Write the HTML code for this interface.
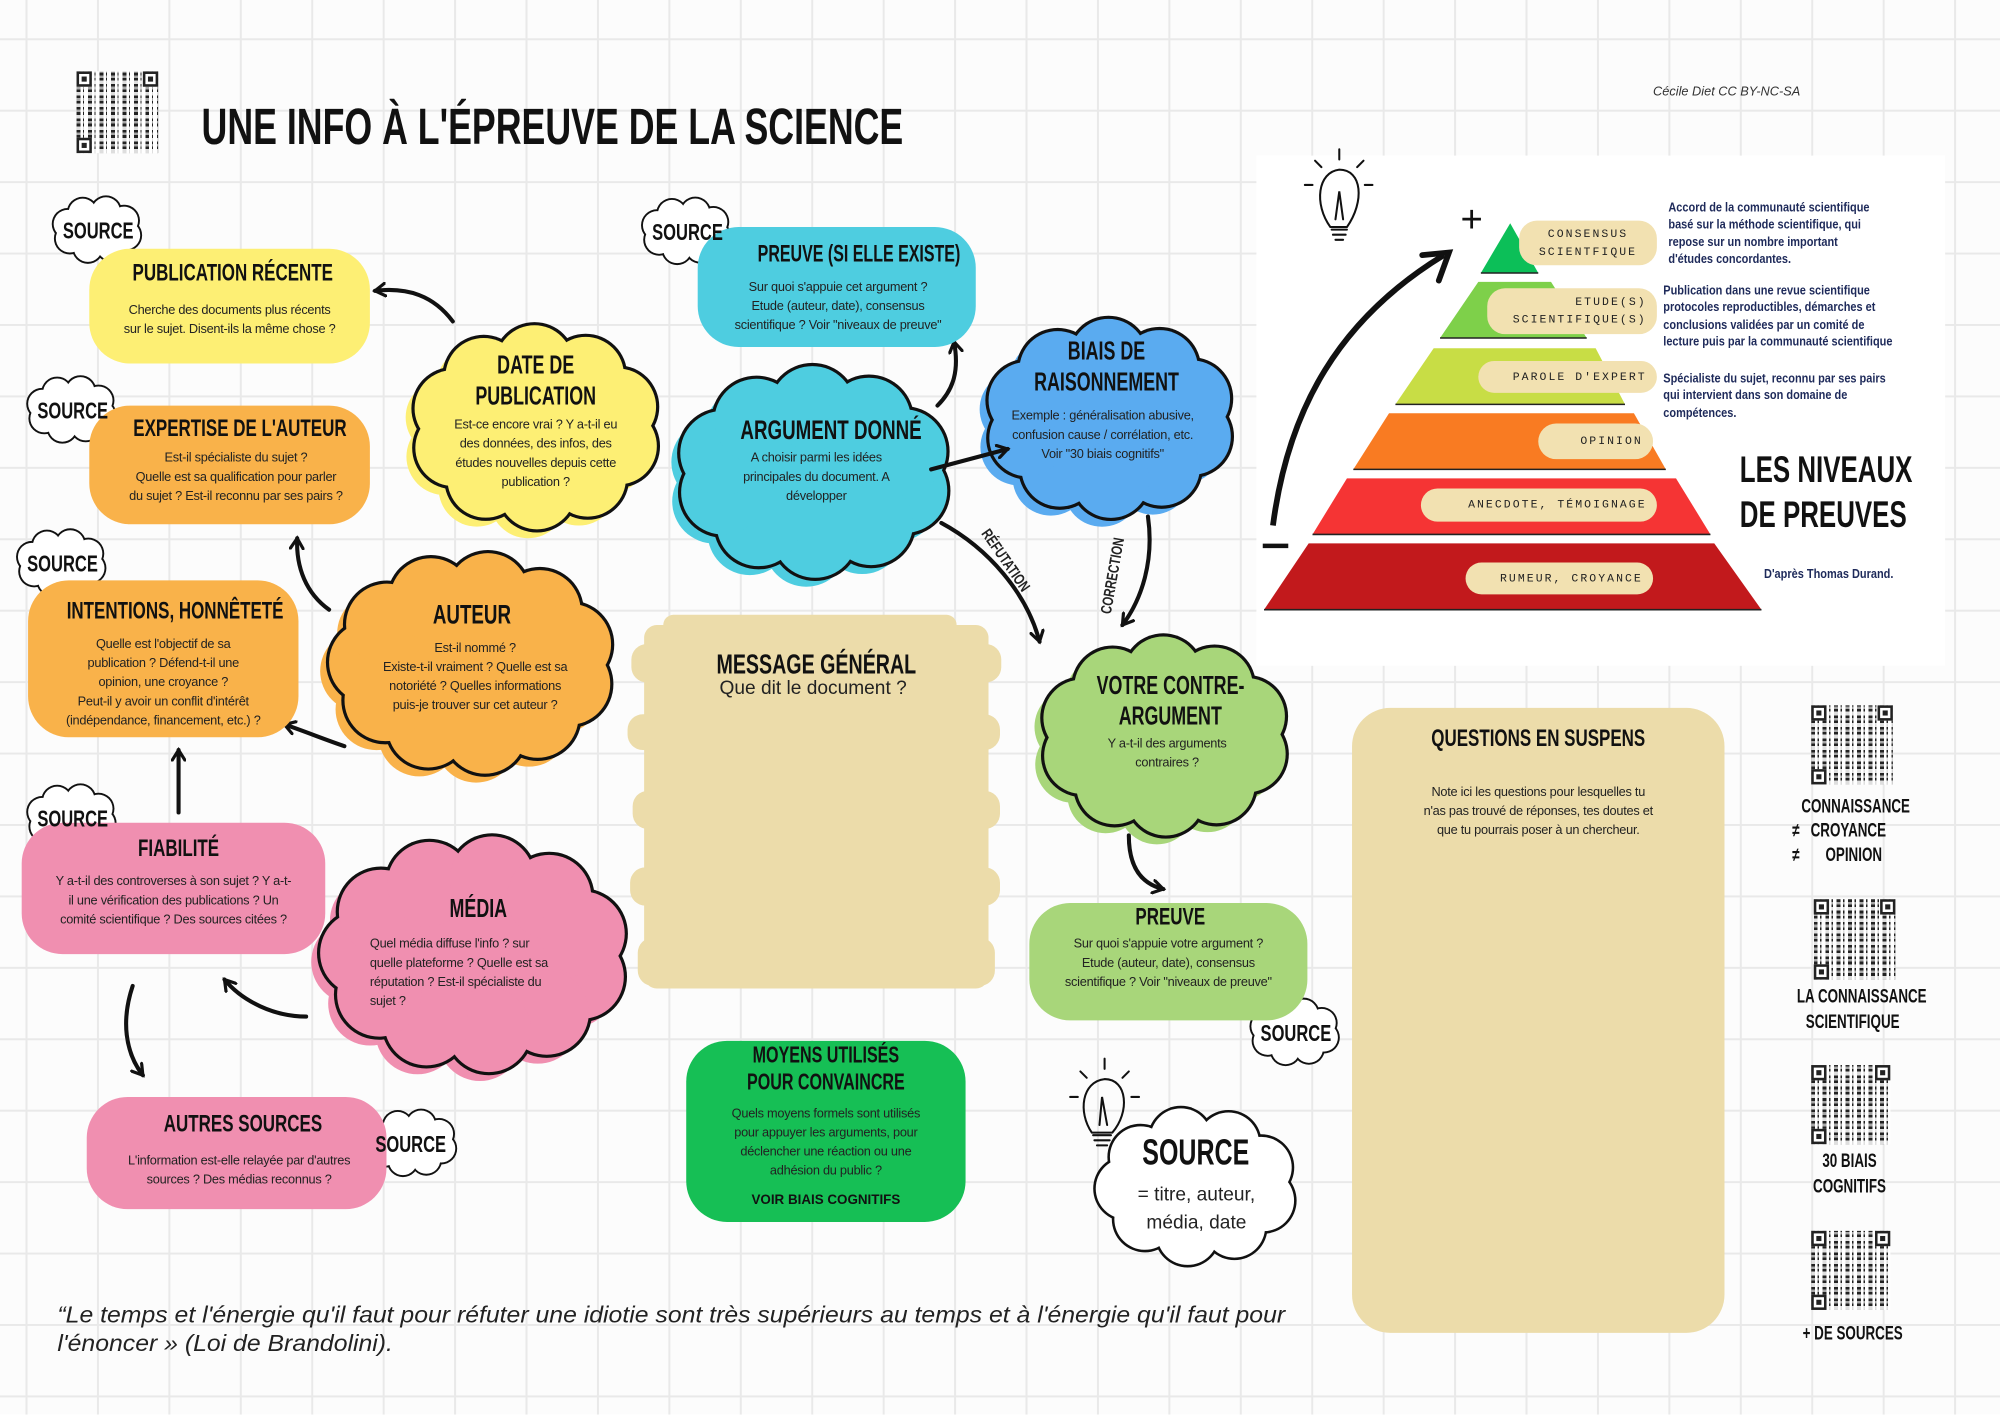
<!DOCTYPE html>
<html><head><meta charset="utf-8">
<style>
html,body{margin:0;padding:0;width:2000px;height:1414px;overflow:hidden;background:#fff}
#c{position:absolute;left:0;top:0;width:1568px;height:1109px;transform:scale(1.27551);transform-origin:0 0;
background-color:#fcfcfc;
background-image:linear-gradient(#e9e9e9 1.5px,transparent 1.5px),linear-gradient(90deg,#e9e9e9 1.5px,transparent 1.5px);
background-size:56px 56px;background-position:20px 30px;font-family:"Liberation Sans",sans-serif;color:#222}
.a{position:absolute}
.t{font-family:"Liberation Sans",sans-serif;font-weight:bold;text-transform:uppercase;color:#111;text-align:center;white-space:nowrap;transform:scaleX(0.7);transform-origin:50% 0}
.b{font-size:10px;line-height:15px;text-align:center;color:#222;letter-spacing:-0.2px}
.box{position:absolute;border-radius:32px}
.pill{position:absolute;background:#f2e1b1;border-radius:14px;font-family:"Liberation Mono",monospace;font-size:9px;letter-spacing:1.6px;color:#222;text-align:right;padding-right:8px;box-sizing:border-box;display:flex;flex-direction:column;justify-content:center;line-height:14px;white-space:nowrap}
.nv{font-family:"Liberation Sans",sans-serif;font-weight:bold;font-size:10px;line-height:13.3px;color:#1e2a5a;white-space:nowrap;transform:scaleX(0.86);transform-origin:0 0}
.src{font-family:"Liberation Sans",sans-serif;font-weight:bold;font-size:18px;color:#111;text-align:center;transform:scaleX(0.72);transform-origin:50% 0}
.qr{position:absolute;background:
repeating-linear-gradient(90deg,#222 0 3px,#fff 3px 5px,#222 5px 6px,#fff 6px 9px),#fff;}
.qr::after{content:"";position:absolute;inset:0;background:repeating-linear-gradient(0deg,rgba(255,255,255,.85) 0 3px,transparent 3px 5px,rgba(255,255,255,.6) 5px 7px,transparent 7px 9px)}
.fin{position:absolute;width:12px;height:12px;border:2px solid #222;background:#fff;z-index:2;box-sizing:border-box}
.fin::after{content:"";position:absolute;left:2px;top:2px;width:4px;height:4px;background:#222}
</style></head><body>
<div id="c">
<div class="a" style="left:985px;top:122px;width:540px;height:400px;background:#fff"></div>

<svg class="a" style="left:0;top:0" width="1568" height="1109" id="svg">
<defs>
<marker id="ah" markerWidth="12" markerHeight="12" refX="9" refY="6" orient="auto" markerUnits="userSpaceOnUse">
<path d="M1,1 L9,6 L1,11" fill="none" stroke="#111" stroke-width="2.5" stroke-linecap="round"/></marker>
</defs>
<g id="clouds"></g>
<g fill="#ecdcaa">
<rect x="505" y="490" width="270" height="285" rx="10"/>
<rect x="495" y="505" width="290" height="30" rx="12"/>
<rect x="492" y="560" width="292" height="28" rx="12"/>
<rect x="496" y="620" width="288" height="30" rx="12"/>
<rect x="494" y="680" width="290" height="30" rx="12"/>
<rect x="500" y="735" width="280" height="38" rx="12"/>
<rect x="520" y="482" width="230" height="20" rx="8"/>
</g>
<polygon points="1184,175 1206,214 1161,214" fill="#0cbf58"/>
<polygon points="1159,221 1216,221 1244,265 1129,265" fill="#7ed04a"/>
<polygon points="1124,273 1251,273 1274,317 1094,317" fill="#c8dd45"/>
<polygon points="1089,324 1281,324 1306,368 1061,368" fill="#f97b22"/>
<polygon points="1056,375 1314,375 1341,419 1029,419" fill="#f53434"/>
<polygon points="1026,426 1344,426 1381,478 991,478" fill="#c2191c"/>
<g stroke="#222" stroke-width="1.2"><line x1="1161" y1="214" x2="1206" y2="214"/><line x1="1129" y1="265" x2="1244" y2="265"/><line x1="1094" y1="317" x2="1274" y2="317"/><line x1="1061" y1="368" x2="1306" y2="368"/><line x1="1029" y1="419" x2="1341" y2="419"/><line x1="991" y1="478" x2="1381" y2="478"/></g>
<path d="M998,412 C1010,320 1050,250 1132,200" fill="none" stroke="#111" stroke-width="4.5"/>
<path d="M1115,200 L1136,198 L1128,220" fill="none" stroke="#111" stroke-width="4.5" stroke-linecap="round"/>
<text x="1145" y="182" font-size="30" font-family="Liberation Sans" fill="#111">+</text>
<line x1="990" y1="428" x2="1010" y2="428" stroke="#111" stroke-width="3.5"/>
<g fill="none" stroke="#111" stroke-width="1.6" stroke-linecap="round">
<path d="M1043,178 C1030,160 1033,135 1050,133 C1068,133 1070,158 1056,178 Z"/>
<path d="M1044,180 h12 M1045,184 h10 M1047,188 h6 M1047,172 L1050,150 L1053,172"/>
<path d="M1050,125 v-8 M1036,131 l-5,-5 M1064,131 l5,-5 M1029,145 h-6 M1070,145 h6"/>
<path d="M856,888 C845,872 848,848 866,846 C884,846 886,872 872,888 Z"/>
<path d="M857,890 h14 M858,894 h12 M860,898 h8 M862,882 L864,860 L868,882"/>
<path d="M866,838 v-8 M852,845 l-5,-5 M880,845 l5,-5 M845,860 h-6 M887,860 h6"/>
</g>
<g fill="none" stroke="#111" stroke-width="3.2" stroke-linecap="round" marker-end="url(#ah)">
<path d="M355,252 C340,232 320,225 294,228"/>
<path d="M258,478 C240,465 232,445 233,422"/>
<path d="M270,585 C255,580 238,573 223,568"/>
<path d="M140,637 L140,588"/>
<path d="M240,797 C215,797 190,785 176,768"/>
<path d="M104,773 C95,800 98,825 112,843"/>
<path d="M735,318 C748,305 752,290 748,268"/>
<path d="M730,368 L790,352"/>
<path d="M738,410 C775,430 805,465 815,503"/>
<path d="M900,405 C905,440 895,470 880,490"/>
<path d="M885,655 C885,680 895,693 912,697"/>
</g>
</svg>

<div class="qr" style="left:60px;top:56px;width:64px;height:64px"></div>
<div class="fin" style="left:60px;top:56px"></div><div class="fin" style="left:112px;top:56px"></div><div class="fin" style="left:60px;top:108px"></div>
<div class="qr" style="left:1420px;top:553px;width:64px;height:62px"></div>
<div class="fin" style="left:1420px;top:553px"></div><div class="fin" style="left:1472px;top:553px"></div><div class="fin" style="left:1420px;top:603px"></div>
<div class="qr" style="left:1422px;top:705px;width:64px;height:63px"></div>
<div class="fin" style="left:1422px;top:705px"></div><div class="fin" style="left:1474px;top:705px"></div><div class="fin" style="left:1422px;top:756px"></div>
<div class="qr" style="left:1420px;top:835px;width:62px;height:62px"></div>
<div class="fin" style="left:1420px;top:835px"></div><div class="fin" style="left:1470px;top:835px"></div><div class="fin" style="left:1420px;top:885px"></div>
<div class="qr" style="left:1420px;top:965px;width:62px;height:62px"></div>
<div class="fin" style="left:1420px;top:965px"></div><div class="fin" style="left:1470px;top:965px"></div><div class="fin" style="left:1420px;top:1015px"></div>

<div class="a t" style="left:158px;top:78px;font-size:40px;text-align:left;transform:scaleX(0.7);transform-origin:0 0">UNE INFO À L'ÉPREUVE DE LA SCIENCE</div>
<div class="a" style="left:1296px;top:67px;font-size:10px;font-style:italic;color:#333">Cécile Diet CC BY-NC-SA</div>

<div class="box" style="left:70px;top:195px;width:220px;height:90px;background:#fdef74"></div>
<div class="a t" style="left:70px;top:204px;width:225px;font-size:19px">Publication récente</div>
<div class="a b" style="left:75px;top:236px;width:210px">Cherche des documents plus récents<br>sur le sujet. Disent-ils la même chose ?</div>

<div class="box" style="left:70px;top:318px;width:220px;height:93px;background:#f9b24a"></div>
<div class="a t" style="left:70px;top:326px;width:230px;font-size:19px">Expertise de l'auteur</div>
<div class="a b" style="left:80px;top:352px;width:210px">Est-il spécialiste du sujet ?<br>Quelle est sa qualification pour parler<br>du sujet ? Est-il reconnu par ses pairs ?</div>

<div class="box" style="left:22px;top:455px;width:212px;height:123px;background:#f9b24a"></div>
<div class="a t" style="left:22px;top:469px;width:202px;font-size:19px">Intentions, honnêteté</div>
<div class="a b" style="left:28px;top:498px;width:200px">Quelle est l'objectif de sa<br>publication ? Défend-t-il une<br>opinion, une croyance ?<br>Peut-il y avoir un conflit d'intérêt<br>(indépendance, financement, etc.) ?</div>

<div class="box" style="left:17px;top:645px;width:238px;height:103px;background:#f08fb0"></div>
<div class="a t" style="left:40px;top:655px;width:200px;font-size:19px">Fiabilité</div>
<div class="a b" style="left:22px;top:684px;width:228px">Y a-t-il des controverses à son sujet ? Y a-t-<br>il une vérification des publications ? Un<br>comité scientifique ? Des sources citées ?</div>

<div class="box" style="left:68px;top:860px;width:235px;height:88px;background:#f08fb0"></div>
<div class="a t" style="left:78px;top:871px;width:225px;font-size:19px">Autres sources</div>
<div class="a b" style="left:80px;top:903px;width:215px">L'information est-elle relayée par d'autres<br>sources ? Des médias reconnus ?</div>

<div class="box" style="left:547px;top:178px;width:218px;height:94px;background:#4ecde0"></div>
<div class="a t" style="left:560px;top:189px;width:200px;font-size:19px;transform:scaleX(0.66)">Preuve (si elle existe)</div>
<div class="a b" style="left:552px;top:218px;width:210px">Sur quoi s'appuie cet argument ?<br>Etude (auteur, date), consensus<br>scientifique ? Voir "niveaux de preuve"</div>

<div class="box" style="left:807px;top:708px;width:218px;height:92px;background:#a8d67a"></div>
<div class="a t" style="left:815px;top:709px;width:205px;font-size:19px">Preuve</div>
<div class="a b" style="left:810px;top:733px;width:212px">Sur quoi s'appuie votre argument ?<br>Etude (auteur, date), consensus<br>scientifique ? Voir "niveaux de preuve"</div>

<div class="box" style="left:538px;top:816px;width:219px;height:142px;background:#16bf55"></div>
<div class="a t" style="left:545px;top:817px;width:205px;font-size:18px;line-height:21px">Moyens utilisés<br>pour convaincre</div>
<div class="a b" style="left:550px;top:866px;width:195px">Quels moyens formels sont utilisés<br>pour appuyer les arguments, pour<br>déclencher une réaction ou une<br>adhésion du public ?</div>
<div class="a" style="left:545px;top:935px;width:205px;text-align:center;font-size:10.5px;font-weight:bold;color:#111">VOIR BIAIS COGNITIFS</div>

<div class="box" style="left:1060px;top:555px;width:292px;height:490px;background:#ecdcaa;border-radius:30px"></div>
<div class="a t" style="left:1060px;top:569px;width:292px;font-size:19px">Questions en suspens</div>
<div class="a b" style="left:1090px;top:614px;width:232px">Note ici les questions pour lesquelles tu<br>n'as pas trouvé de réponses, tes doutes et<br>que tu pourrais poser à un chercheur.</div>

<div class="a t" style="left:520px;top:508px;width:240px;font-size:22px">Message général</div>
<div class="a" style="left:520px;top:531px;width:235px;text-align:center;font-size:15px;color:#222">Que dit le document ?</div>

<div class="a t" style="left:330px;top:275px;width:180px;font-size:20px;line-height:24px">Date de<br>publication</div>
<div class="a b" style="left:330px;top:326px;width:180px">Est-ce encore vrai ? Y a-t-il eu<br>des données, des infos, des<br>études nouvelles depuis cette<br>publication ?</div>

<div class="a t" style="left:290px;top:471px;width:160px;font-size:21px">Auteur</div>
<div class="a b" style="left:280px;top:501px;width:185px">Est-il nommé ?<br>Existe-t-il vraiment ? Quelle est sa<br>notoriété ? Quelles informations<br>puis-je trouver sur cet auteur ?</div>

<div class="a t" style="left:300px;top:702px;width:150px;font-size:20px">Média</div>
<div class="a b" style="left:290px;top:733px;width:175px;text-align:left">Quel média  diffuse l'info ? sur<br>quelle plateforme ? Quelle est sa<br>réputation ? Est-il spécialiste du<br>sujet ?</div>

<div class="a t" style="left:555px;top:326px;width:170px;font-size:21px">Argument donné</div>
<div class="a b" style="left:560px;top:352px;width:160px">A choisir parmi les idées<br>principales du document. A<br>développer</div>

<div class="a t" style="left:785px;top:264px;width:165px;font-size:20px;line-height:24px">Biais de<br>raisonnement</div>
<div class="a b" style="left:767px;top:319px;width:195px">Exemple :  généralisation abusive,<br>confusion cause / corrélation, etc.<br>Voir "30 biais cognitifs"</div>

<div class="a t" style="left:835px;top:526px;width:165px;font-size:20px;line-height:24px">Votre contre-<br>argument</div>
<div class="a b" style="left:845px;top:576px;width:140px">Y a-t-il des arguments<br>contraires ?</div>

<div class="a t" style="left:870px;top:888px;width:135px;font-size:28px">Source</div>
<div class="a" style="left:868px;top:926px;width:140px;text-align:center;font-size:15px;line-height:22px;color:#222">= titre, auteur,<br>média, date</div>

<div class="a src" style="left:38px;top:171px;width:78px">SOURCE</div>
<div class="a src" style="left:18px;top:312px;width:78px">SOURCE</div>
<div class="a src" style="left:10px;top:432px;width:78px">SOURCE</div>
<div class="a src" style="left:18px;top:632px;width:78px">SOURCE</div>
<div class="a src" style="left:283px;top:887px;width:78px">SOURCE</div>
<div class="a src" style="left:500px;top:172px;width:78px">SOURCE</div>
<div class="a src" style="left:977px;top:800px;width:78px">SOURCE</div>

<div class="a" style="left:778px;top:412px;font-size:12px;font-weight:bold;transform:rotate(55deg) scaleX(0.75);transform-origin:0 0;white-space:nowrap">RÉFUTATION</div>
<div class="a" style="left:860px;top:480px;font-size:12px;font-weight:bold;transform:rotate(-80deg) scaleX(0.75);transform-origin:0 0;white-space:nowrap">CORRECTION</div>

<div class="pill" style="left:1191px;top:173px;width:108px;height:35px;text-align:center;padding:0">CONSENSUS<br>SCIENTFIQUE</div>
<div class="pill" style="left:1166px;top:226px;width:133px;height:36px">ETUDE(S)<br>SCIENTIFIQUE(S)</div>
<div class="pill" style="left:1159px;top:283px;width:140px;height:25px">PAROLE D'EXPERT</div>
<div class="pill" style="left:1206px;top:332px;width:90px;height:28px">OPINION</div>
<div class="pill" style="left:1114px;top:383px;width:185px;height:26px">ANECDOTE, TÉMOIGNAGE</div>
<div class="pill" style="left:1149px;top:441px;width:147px;height:25px">RUMEUR, CROYANCE</div>
<div class="a nv" style="left:1308px;top:157px">Accord de la communauté scientifique<br>basé sur la méthode  scientifique, qui<br>repose sur un nombre important<br>d'études concordantes.</div>
<div class="a nv" style="left:1304px;top:222px">Publication dans une revue scientifique<br>protocoles reproductibles, démarches et<br>conclusions validées par un comité de<br>lecture puis par la communauté scientifique</div>
<div class="a nv" style="left:1304px;top:291px">Spécialiste du sujet, reconnu par ses pairs<br>qui intervient dans son domaine de<br>compétences.</div>
<div class="a t" style="left:1340px;top:352px;width:160px;font-size:29px;line-height:35px">Les niveaux<br>de preuves</div>
<div class="a nv" style="left:1383px;top:444px">D'après Thomas Durand.</div>

<div class="a t" style="left:1395px;top:623px;width:115px;font-size:15px;line-height:19px">Connaissance</div>
<div class="a t" style="left:1405px;top:642px;width:100px;font-size:15px;line-height:19px;text-align:left;transform-origin:0 0">≠&nbsp;&nbsp;&nbsp;Croyance<br>≠&nbsp;&nbsp;&nbsp;&nbsp;&nbsp;&nbsp;&nbsp;opinion</div>
<div class="a t" style="left:1390px;top:772px;width:125px;font-size:15px;line-height:20px">La connaissance<br>scientifique</div>
<div class="a t" style="left:1400px;top:901px;width:100px;font-size:15px;line-height:20px">30 biais<br>cognitifs</div>
<div class="a t" style="left:1395px;top:1037px;width:115px;font-size:15px">+ de sources</div>

<div class="a" style="left:45px;top:1020px;width:1000px;font-size:18px;line-height:22px;font-style:italic;color:#222;white-space:nowrap;transform:scaleX(1.08);transform-origin:0 0">“Le temps et l'énergie qu'il faut pour réfuter une idiotie sont très supérieurs au temps et à l'énergie qu'il faut pour<br>l'énoncer » (Loi de Brandolini).</div>
</div>

<script>
(function(){
var g=document.getElementById('clouds'),out='';
function cloud(cx,cy,rx,ry,n,r,fill,shadow,sw){
 sw=sw||2.5;var pts=[];
 for(var i=0;i<n;i++){var a=i/n*Math.PI*2+0.3;pts.push([cx+Math.cos(a)*rx,cy+Math.sin(a)*ry]);}
 function layer(dx,dy,col,extra){
  var s='<ellipse cx="'+(cx+dx)+'" cy="'+(cy+dy)+'" rx="'+(rx+extra)+'" ry="'+(ry+extra)+'" fill="'+col+'"/>';
  pts.forEach(function(p){s+='<circle cx="'+(p[0]+dx)+'" cy="'+(p[1]+dy)+'" r="'+(r+extra)+'" fill="'+col+'"/>';});
  return s;}
 if(shadow) out+=layer(-7,7,fill,0);
 out+=layer(0,0,'#111',sw);
 out+=layer(0,0,fill,0);
}
cloud(420,335,68,50,10,30,'#fdef74',1,2.5);
cloud(370,520,80,55,11,32,'#f9b24a',1,2.5);
cloud(372,748,88,60,11,33,'#f08fb0',1,2.5);
cloud(638,370,75,50,10,33,'#4ecde0',1,2.5);
cloud(870,328,68,48,10,30,'#5aabf0',1,2.5);
cloud(913,577,68,48,10,30,'#a8d67a',1,2.5);
cloud(938,930,55,38,9,24,'#fff',0,2);
[[76,180],[56,321],[48,441],[56,641],[323,896],[538,181],[1015,809]].forEach(function(p){cloud(p[0],p[1],24,15,8,11,'#fff',0,1.5);});
g.innerHTML=out;
})();
</script>
</body></html>
